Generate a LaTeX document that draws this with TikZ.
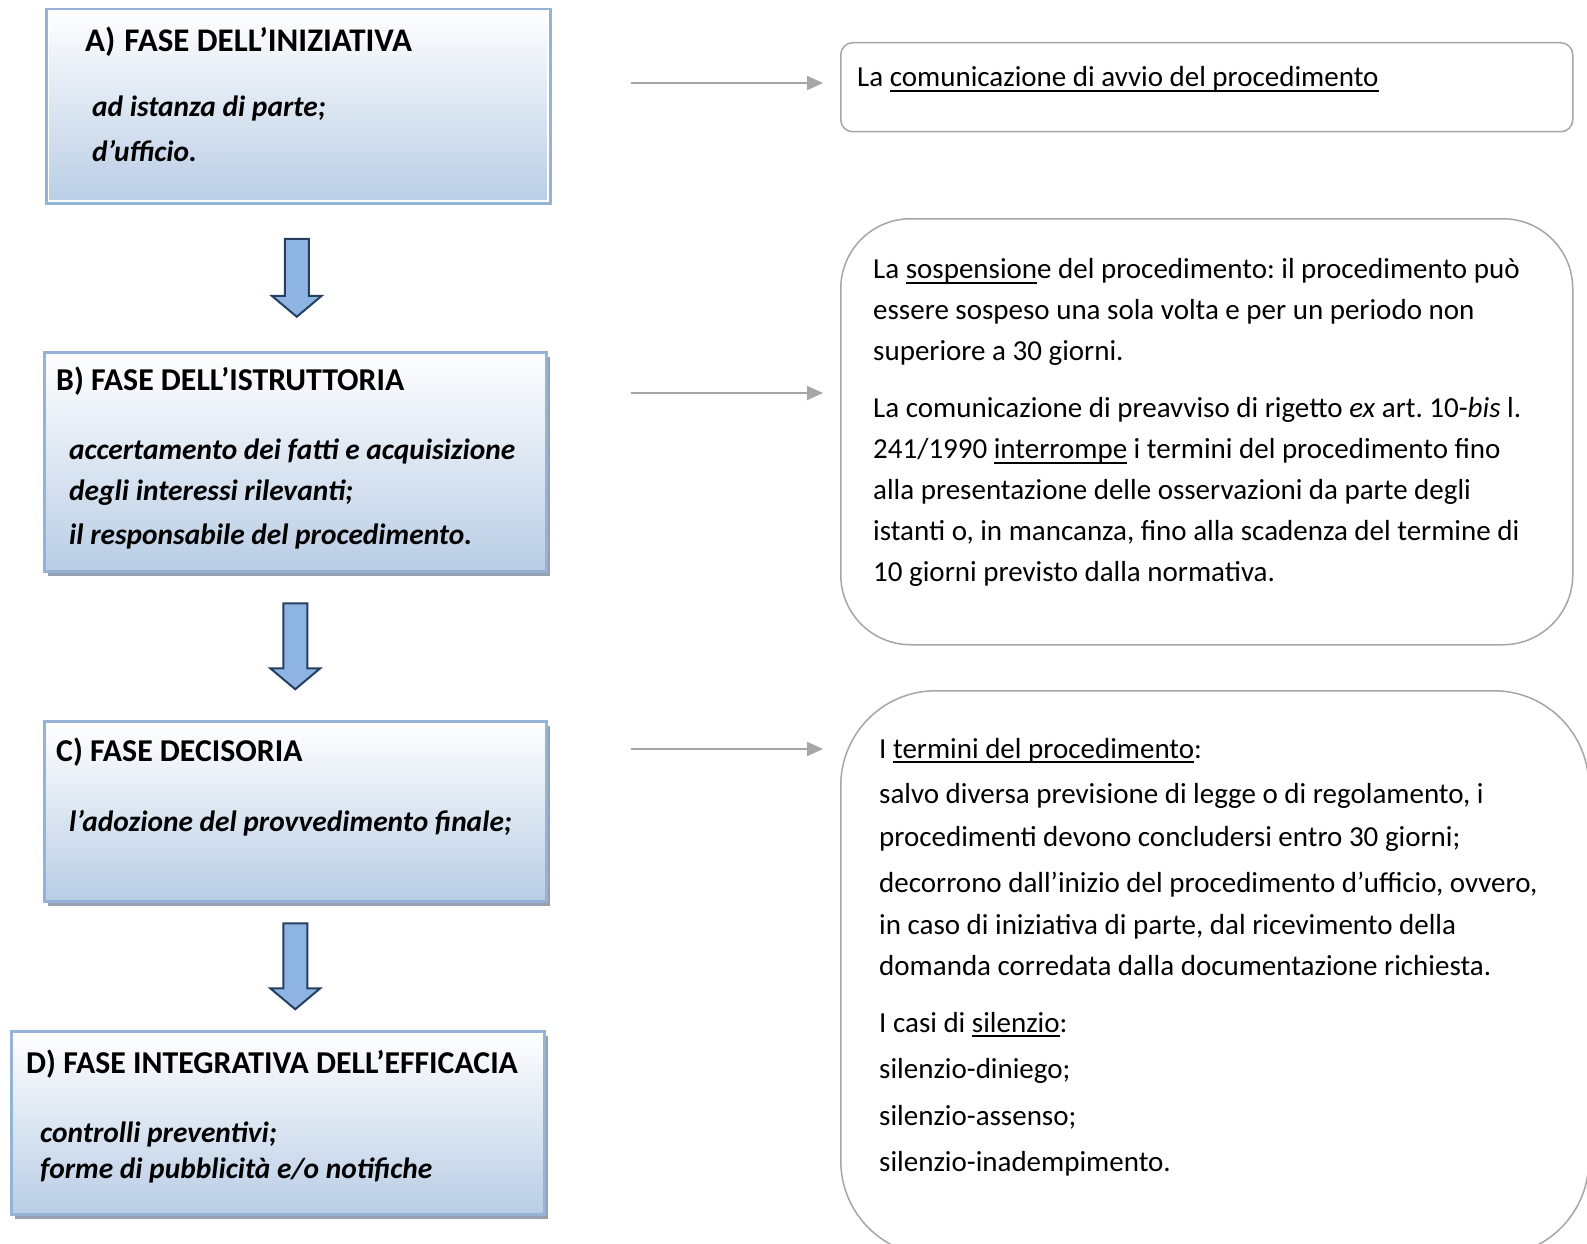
\documentclass[tikz,border=0pt]{standalone}
\usepackage{fontspec}
\setmainfont{Carlito}
\usepackage{tikz}
\usetikzlibrary{arrows.meta,calc,shadows}
\definecolor{bordoblu}{HTML}{95B3D7}
\definecolor{fondoblu}{HTML}{B9CDE5}
\definecolor{ombra}{RGB}{150,160,175}
\definecolor{grigio}{HTML}{A6A6A6}
\definecolor{bluchiaro}{HTML}{8EB4E3}
\definecolor{bluscuro}{HTML}{243F60}
\newcommand{\grande}{\fontsize{31.8}{42}\selectfont}
\newcommand{\medio}{\fontsize{29.4}{42}\selectfont}
\newcommand{\piccolo}{\fontsize{29}{41}\selectfont}
\newcommand{\sott}[1]{\setbox0=\hbox{#1}\rlap{\vrule height -3pt depth 4.6pt width \wd0}\box0\relax}
\newcommand{\fatarrow}[2]{\draw[blocco] ($(#1)+(-12,-#2/2)$) -- ++(24,0) -- ++(0,#2-21) -- ++(13,0) -- ++(-25,21) -- ++(-25,-21) -- ++(13,0) -- cycle;}
\tikzstyle{fase} = [rectangle, anchor=north west, draw=bordoblu, line width=2.5pt, top color=white, bottom color=fondoblu]
\tikzstyle{faseombra} = [fase, drop shadow={shadow xshift=4pt, shadow yshift=-5pt, fill=ombra, opacity=1}]
\tikzstyle{nota} = [rectangle, anchor=north west, draw=grigio, line width=1.5pt, fill=white]
\tikzstyle{titolo} = [anchor=base west, inner sep=0pt, font=\grande\bfseries]
\tikzstyle{voci} = [anchor=north west, inner sep=0pt, align=left, font=\medio\bfseries\itshape]
\tikzstyle{testo} = [anchor=north west, inner sep=0pt, align=left, font=\piccolo\frenchspacing]
\tikzstyle{freccia} = [draw=grigio, line width=2pt, -{Triangle[length=16pt,width=14pt]}, shorten >=17pt]
\tikzstyle{blocco} = [draw=bluscuro, fill=bluchiaro, line width=2pt, line join=miter]

\begin{document}
\begin{tikzpicture}[x=1pt, y=-1pt]
	\useasboundingbox[fill=white] (0,0) rectangle (1587,1244);
	\clip (0,0) rectangle (1587,1244);

	\node[fase, minimum width=504pt, minimum height=194pt] (iniziativa) at (45,8) {};
	\draw[white, line width=1.5pt] ($(iniziativa.north west)+(3.5,3.5)$) rectangle ($(iniziativa.south east)+(-3.5,-3.5)$);
	\node[faseombra, minimum width=502pt, minimum height=219pt] (istruttoria) at (43,351) {};
	\node[faseombra, minimum width=502pt, minimum height=180pt] (decisoria) at (43,720) {};
	\node[faseombra, minimum width=533pt, minimum height=183pt] (integrativa) at (10,1030) {};

	\node[titolo, font=\fontsize{33}{42}\selectfont\bfseries] (titoloA) at (85,52) {A)\hspace{9pt}FASE DELL’INIZIATIVA};
	\node[voci] (vociA) at (92,86.6) {\strut ad istanza di parte;\\[3pt] d’ufficio.};
	\node[titolo] (titoloB) at (56,390) {B) FASE DELL’ISTRUTTORIA};
	\node[voci] (vociB) at (69,429.6) {\strut accertamento dei fatti e acquisizione\\[-1pt] degli interessi rilevanti;\\[2pt] il responsabile del procedimento.};
	\node[titolo] (titoloC) at (56,761) {C) FASE DECISORIA};
	\node[voci] (vociC) at (69,801.6) {\strut l’adozione del provvedimento finale;};
	\node[titolo] (titoloD) at (26,1073) {D) FASE INTEGRATIVA DELL’EFFICACIA};
	\node[voci] (vociD) at (40,1112.6) {\strut controlli preventivi;\\[-6pt] forme di pubblicità e/o notifiche};

	\coordinate (passoAB) at ($(iniziativa.south)!0.5!(istruttoria.north)$);
	\coordinate (passoBC) at ($(istruttoria.south)!0.5!(decisoria.north)$);
	\coordinate (passoCD) at ($(decisoria.south)!0.5!(decisoria.south |- integrativa.north)$);
	\fatarrow{passoAB}{78}
	\fatarrow{passoBC}{86}
	\fatarrow{passoCD}{86}

	\node[nota, rounded corners=12pt, minimum width=732pt, minimum height=89pt] (avvio) at (840,42) {};
	\node[nota, rounded corners=70pt, minimum width=732pt, minimum height=426pt] (sospensione) at (840,218) {};
	\node[nota, rounded corners=95pt, minimum width=748pt, minimum height=565pt] (termini) at (840,690) {};

	\node[testo, anchor=base west] (testoavvio) at (857,87) {La \sott{comunicazione di avvio del procedimento}};
	\node[testo] (testosospensione) at (873,250) {\strut La \sott{sospension}e del procedimento: il procedimento può\\
		essere sospeso una sola volta e per un periodo non\\
		superiore a 30 giorni.\\[16pt]
		La comunicazione di preavviso di rigetto \textit{ex} art. 10-\textit{bis} l.\\
		241/1990 \sott{interrompe} i termini del procedimento fino\\
		alla presentazione delle osservazioni da parte degli\\
		istanti o, in mancanza, fino alla scadenza del termine di\\
		10 giorni previsto dalla normativa.};
	\node[testo] (testotermini) at (879,729.5) {\strut I \sott{termini del procedimento}:\\[4pt]
		salvo diversa previsione di legge o di regolamento, i\\[2pt]
		procedimenti devono concludersi entro 30 giorni;\\[5pt]
		decorrono dall’inizio del procedimento d’ufficio, ovvero,\\[1pt]
		in caso di iniziativa di parte, dal ricevimento della\\
		domanda corredata dalla documentazione richiesta.\\[16pt]
		I casi di \sott{silenzio}:\\[5pt]
		silenzio-diniego;\\[6pt]
		silenzio-assenso;\\[5pt]
		silenzio-inadempimento.};

	\coordinate (uscitaA) at (631,83);
	\coordinate (uscitaB) at (631,393);
	\coordinate (uscitaC) at (631,749);
	\draw[freccia] (uscitaA) -- (uscitaA -| avvio.west);
	\draw[freccia] (uscitaB) -- (uscitaB -| sospensione.west);
	\draw[freccia] (uscitaC) -- (uscitaC -| termini.west);
\end{tikzpicture}
\end{document}
